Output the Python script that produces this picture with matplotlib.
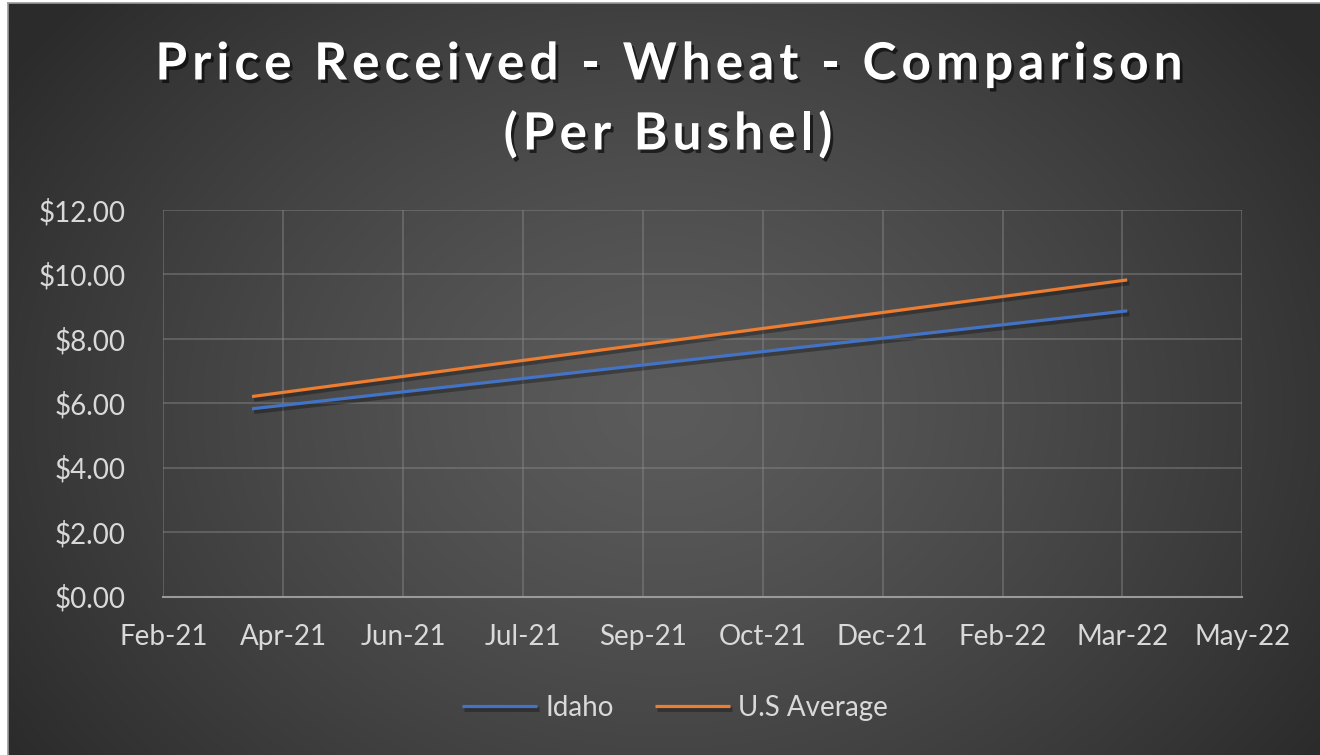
import numpy as np
import matplotlib
matplotlib.use("Agg")
import matplotlib.pyplot as plt
import matplotlib.dates as mdates
import matplotlib.patheffects as pe
from matplotlib.ticker import FuncFormatter, MultipleLocator
from matplotlib.font_manager import FontProperties
from matplotlib.textpath import TextToPath
import datetime as dt

# ---- data ----
dates = [dt.date(2021, 3, 31), dt.date(2022, 3, 31)]
idaho = [5.83, 8.87]
us_avg = [6.21, 9.83]
series_names = ["Idaho", "U.S Average"]
series_colors = ["#4472C4", "#ED7D31"]
title_lines = ["Price Received - Wheat - Comparison", "(Per Bushel)"]
x_start = dt.date(2021, 2, 22)
x_step_days = 50
n_ticks = 10

W, H, DPI = 1320, 755, 100
fig = plt.figure(figsize=(W / DPI, H / DPI), dpi=DPI)
fig.patch.set_facecolor("white")

# background radial gradient (chart area starts after a thin white margin)
bg = fig.add_axes([8 / W, 0, 1 - 8 / W, 1 - 3 / H])
bg.set_axis_off()
yy, xx = np.mgrid[0:400, 0:700]
cx, cy = 350, 215
r = np.sqrt(((xx - cx) / 420.0) ** 2 + ((yy - cy) / 330.0) ** 2)
r = np.clip(r, 0, 1)
c0, c1 = 0x5b / 255, 0x2b / 255
val = c0 + (c1 - c0) * r ** 1.3
img = np.dstack([val, val, val])
bg.imshow(img, aspect="auto", extent=[0, 1, 0, 1], interpolation="bilinear")
bg.set_xlim(0, 1); bg.set_ylim(0, 1)
fig.add_artist(plt.Line2D([8 / W, 8 / W], [0, 1 - 3 / H], transform=fig.transFigure, color="#9a9a9a", lw=1.2))
fig.add_artist(plt.Line2D([8 / W, 1], [1 - 3 / H, 1 - 3 / H], transform=fig.transFigure, color="#9a9a9a", lw=1.2))

left, right = 163.3 / W, 1242.3 / W
top, bottom = 1 - 210 / H, 1 - 596.6 / H
ax = fig.add_axes([left, bottom, right - left, top - bottom])
ax.patch.set_alpha(0)

xd = mdates.date2num(dates)
shadow = [pe.SimpleLineShadow(offset=(1.5, -2), shadow_color="black", alpha=0.3, linewidth=3.5), pe.Normal()]
ax.plot(xd, idaho, color=series_colors[0], lw=2.3, label=series_names[0], solid_capstyle="butt", path_effects=shadow)
ax.plot(xd, us_avg, color=series_colors[1], lw=2.3, label=series_names[1], solid_capstyle="butt", path_effects=shadow)

x0 = mdates.date2num(x_start)
ticks = [x0 + i * x_step_days for i in range(n_ticks)]
ax.set_xlim(ticks[0], ticks[-1])
ax.set_xticks(ticks)
ax.xaxis.set_major_formatter(mdates.DateFormatter("%b-%y"))
ax.set_ylim(0, 12)
ax.yaxis.set_major_locator(MultipleLocator(2))
ax.yaxis.set_major_formatter(FuncFormatter(lambda v, p: f"${v:,.2f}"))

ax.grid(True, color="#8a8a8a", alpha=0.55, lw=1.1)
ax.set_axisbelow(True)
for s in ["top", "right", "left"]:
    ax.spines[s].set_visible(False)
ax.spines["bottom"].set_color("#9a9a9a")
ax.spines["bottom"].set_linewidth(1.5)
ax.tick_params(length=0, colors="#d9d9d9", labelsize=20)
ax.tick_params(axis="x", pad=20)
ax.tick_params(axis="y", pad=27)
for lab in ax.get_xticklabels() + ax.get_yticklabels():
    lab.set_fontfamily("Lato")
    lab.set_color("#d9d9d9")

# title with letter tracking
t2p = TextToPath()
def tracked_text(s, xc, yc, size, track_px, **kw):
    prop = FontProperties(family="Lato", weight="bold", size=size)
    k = DPI / 72.0
    def wid(t):
        w, _, _ = t2p.get_text_width_height_descent(t + "x", prop, ismath=False)
        wx, _, _ = t2p.get_text_width_height_descent("x", prop, ismath=False)
        return (w - wx) * k
    n = len(s)
    total = wid(s) + (n - 1) * track_px
    xstart = xc - total / 2
    for i, ch in enumerate(s):
        if ch == " ":
            continue
        xi = xstart + wid(s[:i]) + i * track_px
        fig.text(xi / W, 1 - yc / H, ch, ha="left", va="center", fontproperties=prop, color="white", **kw)

tshadow = [pe.SimplePatchShadow(offset=(2, -2.5), shadow_rgbFace="black", alpha=0.6), pe.Normal()]
tracked_text(title_lines[0], 669, 65, 37, 5.0, path_effects=tshadow)
tracked_text(title_lines[1], 668, 135, 37, 5.0, path_effects=tshadow)

leg = fig.legend(loc="center", bbox_to_anchor=(675 / W, 1 - 708 / H), ncol=2, frameon=False,
                 prop={"family": "Lato", "size": 20}, handlelength=2.7, handletextpad=0.3, columnspacing=1.5)
for t in leg.get_texts():
    t.set_color("#d9d9d9")

fig.savefig("out.png", dpi=DPI)
